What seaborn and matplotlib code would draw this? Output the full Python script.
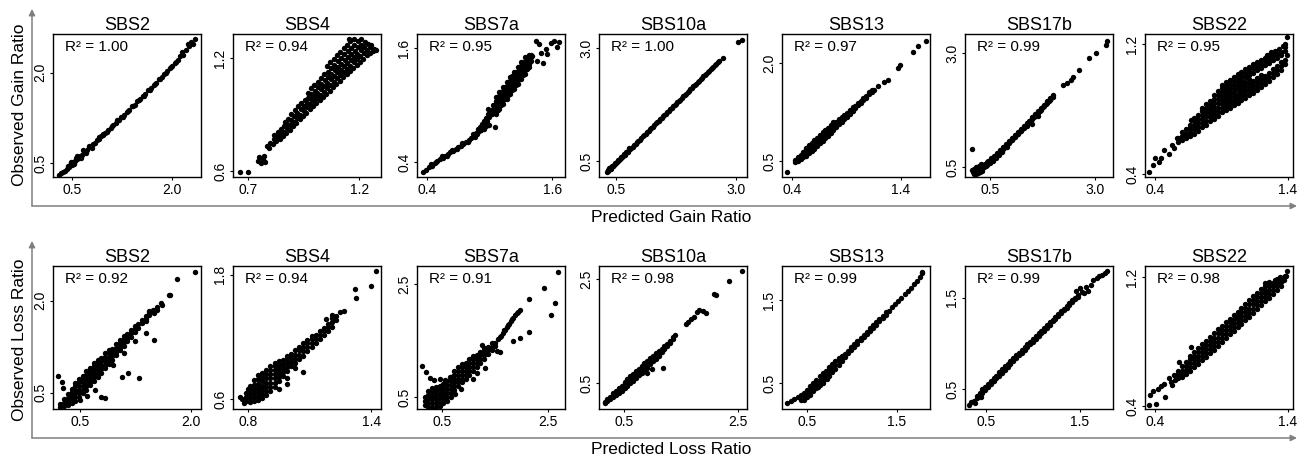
import matplotlib
matplotlib.use("Agg")
from matplotlib import pyplot as plt
import pandas as pd
import seaborn as sns

signatures = ["SBS2", "SBS4", "SBS7a", "SBS10a", "SBS13", "SBS17b", "SBS22"]
gain_r2 = [1.00, 0.94, 0.95, 1.00, 0.97, 0.99, 0.95]
loss_r2 = [0.92, 0.94, 0.91, 0.98, 0.99, 0.99, 0.98]

# (predicted, observed)
gain_sbs2 = [
    (0.31, 0.30), (0.34, 0.33), (0.37, 0.36), (0.40, 0.37), (0.42, 0.41), (0.44, 0.46), (0.45, 0.43), (0.47, 0.47),
    (0.50, 0.47), (0.48, 0.52), (0.52, 0.52), (0.53, 0.49), (0.55, 0.53), (0.56, 0.58), (0.57, 0.57), (0.58, 0.62),
    (0.60, 0.58), (0.62, 0.62), (0.63, 0.59), (0.65, 0.63), (0.66, 0.71), (0.68, 0.68), (0.70, 0.69), (0.71, 0.66),
    (0.73, 0.72), (0.75, 0.79), (0.76, 0.76), (0.79, 0.78), (0.80, 0.75), (0.82, 0.82), (0.85, 0.84), (0.88, 0.88),
    (0.90, 0.93), (0.91, 0.90), (0.94, 0.95), (0.96, 0.99), (0.97, 0.96), (1.00, 1.00), (1.02, 1.01), (1.04, 1.05),
    (1.08, 1.08), (1.10, 1.12), (1.12, 1.14), (1.16, 1.17), (1.18, 1.21), (1.20, 1.22), (1.24, 1.26), (1.26, 1.27),
    (1.28, 1.30), (1.32, 1.35), (1.34, 1.37), (1.36, 1.38), (1.40, 1.44), (1.42, 1.45), (1.44, 1.47), (1.48, 1.53),
    (1.50, 1.55), (1.52, 1.56), (1.56, 1.62), (1.58, 1.62), (1.60, 1.65), (1.64, 1.71), (1.66, 1.72), (1.68, 1.74),
    (1.72, 1.80), (1.74, 1.81), (1.76, 1.83), (1.80, 1.89), (1.82, 1.90), (1.84, 1.92), (1.88, 1.98), (1.90, 2.00),
    (1.92, 2.02), (1.96, 2.07), (1.98, 2.09), (2.00, 2.11), (2.04, 2.16), (2.06, 2.18), (2.08, 2.21), (2.12, 2.27),
    (2.14, 2.34), (2.16, 2.30), (2.20, 2.38), (2.24, 2.47), (2.25, 2.44), (2.28, 2.50), (2.31, 2.47), (2.34, 2.55),
]

gain_sbs4 = [
    (0.665, 0.595), (0.700, 0.595),
    (0.745, 0.655), (0.752, 0.672), (0.760, 0.640), (0.768, 0.662), (0.772, 0.680), (0.778, 0.650),
    (0.785, 0.735), (0.795, 0.720), (0.800, 0.750), (0.812, 0.742), (0.815, 0.772), (0.818, 0.790),
    (0.828, 0.760), (0.830, 0.785), (0.833, 0.810), (0.842, 0.772), (0.845, 0.798), (0.848, 0.825),
    (0.858, 0.785), (0.860, 0.810), (0.862, 0.838), (0.865, 0.860),
    (0.873, 0.800), (0.875, 0.828), (0.877, 0.852), (0.880, 0.878),
    (0.888, 0.820), (0.890, 0.845), (0.892, 0.870), (0.895, 0.905),
    (0.903, 0.838), (0.905, 0.862), (0.907, 0.890), (0.910, 0.925),
    (0.918, 0.858), (0.920, 0.882), (0.922, 0.910), (0.925, 0.945),
    (0.933, 0.875), (0.935, 0.900), (0.937, 0.928), (0.940, 0.962),
    (0.948, 0.895), (0.950, 0.920), (0.952, 0.948), (0.955, 0.980),
    (0.963, 0.910), (0.965, 0.938), (0.967, 0.962), (0.970, 0.990), (0.968, 1.015),
    (0.978, 0.928), (0.980, 0.955), (0.982, 0.982), (0.985, 1.010), (0.983, 1.040),
    (0.993, 0.945), (0.995, 0.972), (0.997, 1.000), (1.000, 1.028), (0.998, 1.060),
    (1.008, 0.960), (1.010, 0.988), (1.012, 1.015), (1.015, 1.045), (1.013, 1.075),
    (1.023, 0.978), (1.025, 1.005), (1.027, 1.035), (1.030, 1.062), (1.028, 1.095),
    (1.038, 0.995), (1.040, 1.022), (1.042, 1.052), (1.045, 1.082), (1.043, 1.115),
    (1.053, 1.010), (1.055, 1.040), (1.057, 1.068), (1.060, 1.098), (1.058, 1.128), (1.055, 1.158),
    (1.068, 1.028), (1.070, 1.058), (1.072, 1.088), (1.075, 1.118), (1.073, 1.148), (1.070, 1.178),
    (1.083, 1.045), (1.085, 1.075), (1.087, 1.105), (1.090, 1.135), (1.088, 1.165), (1.085, 1.198),
    (1.098, 1.065), (1.100, 1.095), (1.102, 1.125), (1.105, 1.155), (1.103, 1.185), (1.100, 1.218),
    (1.113, 1.080), (1.115, 1.110), (1.117, 1.140), (1.120, 1.170), (1.118, 1.200), (1.115, 1.232),
    (1.128, 1.098), (1.130, 1.128), (1.132, 1.158), (1.135, 1.188), (1.133, 1.220), (1.130, 1.252),
    (1.143, 1.115), (1.145, 1.145), (1.147, 1.175), (1.150, 1.205), (1.148, 1.238), (1.145, 1.270),
    (1.158, 1.130), (1.160, 1.160), (1.162, 1.192), (1.165, 1.222), (1.163, 1.255), (1.160, 1.290), (1.155, 1.305),
    (1.173, 1.148), (1.175, 1.178), (1.177, 1.208), (1.180, 1.240), (1.178, 1.272), (1.175, 1.300),
    (1.188, 1.165), (1.190, 1.195), (1.192, 1.225), (1.195, 1.258), (1.193, 1.290),
    (1.203, 1.180), (1.205, 1.212), (1.207, 1.242), (1.210, 1.272), (1.208, 1.300),
    (1.218, 1.198), (1.220, 1.228), (1.222, 1.258), (1.225, 1.288),
    (1.233, 1.215), (1.235, 1.245), (1.238, 1.275), (1.248, 1.230), (1.250, 1.258), (1.253, 1.270),
    (1.263, 1.238), (1.268, 1.250), (1.276, 1.243),
]

gain_sbs7a = [
    (0.362, 0.295), (0.39, 0.32), (0.42, 0.345), (0.44, 0.375), (0.45, 0.36), (0.475, 0.385), (0.49, 0.395),
    (0.50, 0.41), (0.525, 0.43), (0.54, 0.46), (0.55, 0.445), (0.575, 0.465), (0.59, 0.465), (0.60, 0.48),
    (0.625, 0.50), (0.64, 0.53), (0.65, 0.515), (0.675, 0.535), (0.69, 0.54), (0.70, 0.555), (0.725, 0.57),
    (0.74, 0.605), (0.75, 0.59), (0.775, 0.61), (0.79, 0.615), (0.80, 0.63), (0.825, 0.65), (0.84, 0.69),
    (0.85, 0.675), (0.86, 0.66), (0.875, 0.70), (0.88, 0.69), (0.89, 0.75), (0.90, 0.73),
    (0.91, 0.77), (0.92, 0.74), (0.93, 0.80), (0.93, 0.76), (0.94, 0.77), (0.95, 0.83), (0.95, 0.75),
    (0.96, 0.80), (0.97, 0.86), (0.97, 0.78), (0.98, 0.83), (0.99, 0.90), (0.99, 0.96), (1.00, 0.87),
    (1.00, 0.79), (1.01, 0.93), (1.02, 0.90), (1.03, 0.96), (1.03, 1.00), (1.04, 0.94), (1.05, 0.77),
    (1.06, 0.905), (1.06, 0.95), (1.06, 0.995), (1.06, 1.04), (1.06, 1.085),
    (1.077, 0.95), (1.077, 0.995), (1.077, 1.04), (1.077, 1.085),
    (1.095, 0.96), (1.095, 1.00), (1.095, 1.047), (1.095, 1.09), (1.095, 1.135),
    (1.112, 1.005), (1.112, 1.05), (1.112, 1.095), (1.112, 1.14),
    (1.13, 1.01), (1.13, 1.055), (1.13, 1.10), (1.13, 1.145), (1.13, 1.19),
    (1.147, 1.06), (1.147, 1.105), (1.147, 1.15), (1.147, 1.19),
    (1.165, 1.06), (1.165, 1.107), (1.165, 1.152), (1.165, 1.197), (1.165, 1.24),
    (1.182, 1.11), (1.182, 1.155), (1.182, 1.20), (1.182, 1.245),
    (1.20, 1.115), (1.20, 1.16), (1.20, 1.204), (1.20, 1.25), (1.20, 1.29),
    (1.217, 1.16), (1.217, 1.21), (1.217, 1.255), (1.217, 1.30),
    (1.235, 1.165), (1.235, 1.21), (1.235, 1.256), (1.235, 1.30), (1.235, 1.345),
    (1.252, 1.21), (1.252, 1.26), (1.252, 1.305), (1.252, 1.35),
    (1.27, 1.22), (1.27, 1.265), (1.27, 1.308), (1.27, 1.35), (1.27, 1.395),
    (1.287, 1.27), (1.287, 1.31), (1.287, 1.355), (1.287, 1.40),
    (1.305, 1.27), (1.305, 1.315), (1.305, 1.36), (1.305, 1.405), (1.305, 1.45),
    (1.322, 1.32), (1.322, 1.365), (1.322, 1.41), (1.322, 1.455),
    (1.34, 1.33), (1.34, 1.37), (1.34, 1.41), (1.34, 1.455), (1.34, 1.50),
    (1.357, 1.38), (1.357, 1.42), (1.357, 1.465), (1.357, 1.51),
    (1.375, 1.40), (1.375, 1.43), (1.375, 1.46), (1.375, 1.50), (1.375, 1.53),
    (1.40, 1.46), (1.40, 1.50), (1.40, 1.53),
    (1.41, 1.516), (1.444, 1.674), (1.476, 1.64), (1.54, 1.59), (1.587, 1.657), (1.62, 1.674),
    (1.65, 1.605), (1.666, 1.663), (1.49, 1.55), (1.555, 1.534), (1.46, 1.464), (1.514, 1.447),
]

gain_sbs10a = [
    (0.31, 0.25), (0.34, 0.30), (0.37, 0.32), (0.40, 0.36), (0.43, 0.38), (0.46, 0.41), (0.49, 0.44), (0.52, 0.47),
    (0.55, 0.51), (0.58, 0.55), (0.61, 0.57), (0.64, 0.60), (0.67, 0.63), (0.70, 0.66), (0.73, 0.70), (0.76, 0.73),
    (0.79, 0.76), (0.82, 0.79), (0.85, 0.82), (0.88, 0.85), (0.91, 0.88), (0.94, 0.92), (0.97, 0.95), (1.00, 0.97),
    (1.03, 1.01), (1.06, 1.05), (1.09, 1.07), (1.12, 1.10), (1.15, 1.14), (1.18, 1.17), (1.21, 1.20), (1.24, 1.23),
    (1.27, 1.26), (1.30, 1.29), (1.33, 1.33), (1.36, 1.36), (1.39, 1.39), (1.42, 1.42), (1.45, 1.45), (1.48, 1.49),
    (1.51, 1.52), (1.54, 1.55), (1.57, 1.58), (1.60, 1.61), (1.63, 1.64), (1.66, 1.68), (1.69, 1.71), (1.72, 1.74),
    (1.75, 1.77), (1.78, 1.80), (1.81, 1.83), (1.84, 1.86), (1.87, 1.90), (1.90, 1.93), (1.93, 1.96), (1.96, 1.99),
    (1.99, 2.02), (2.02, 2.05), (2.05, 2.09), (2.08, 2.12), (2.11, 2.15), (2.14, 2.18), (2.17, 2.21), (2.20, 2.24),
    (2.23, 2.27), (2.26, 2.31), (2.29, 2.34), (2.32, 2.37), (2.35, 2.40), (2.38, 2.43), (2.41, 2.46), (2.44, 2.50),
    (2.47, 2.53), (2.50, 2.56), (2.53, 2.59), (2.56, 2.62), (2.59, 2.65), (2.62, 2.68), (2.65, 2.72), (2.72, 2.79),
    (0.33, 0.28), (0.36, 0.34), (0.39, 0.33), (0.42, 0.40), (0.45, 0.39), (0.48, 0.46), (0.51, 0.45), (0.54, 0.52),
    (0.57, 0.52), (0.60, 0.59), (0.63, 0.58), (0.66, 0.65), (0.69, 0.64), (0.72, 0.71), (0.75, 0.70), (0.78, 0.78),
    (3.04, 3.13), (3.12, 3.18),
]

gain_sbs13 = [
    (0.354, 0.33),
    (0.43, 0.485), (0.43, 0.51), (0.455, 0.50), (0.455, 0.53), (0.455, 0.56),
    (0.48, 0.53), (0.48, 0.56), (0.48, 0.60), (0.505, 0.56), (0.505, 0.60), (0.505, 0.64),
    (0.53, 0.58), (0.53, 0.63), (0.53, 0.68), (0.53, 0.70), (0.555, 0.62), (0.555, 0.67), (0.555, 0.72), (0.555, 0.74),
    (0.58, 0.65), (0.58, 0.70), (0.58, 0.75), (0.58, 0.78), (0.605, 0.69), (0.605, 0.74), (0.605, 0.79), (0.605, 0.82),
    (0.63, 0.73), (0.63, 0.78), (0.63, 0.82), (0.63, 0.86), (0.655, 0.77), (0.655, 0.82), (0.655, 0.86), (0.655, 0.90),
    (0.68, 0.81), (0.68, 0.86), (0.68, 0.90), (0.68, 0.94), (0.705, 0.85), (0.705, 0.90), (0.705, 0.94), (0.705, 0.98),
    (0.73, 0.89), (0.73, 0.94), (0.73, 0.98), (0.73, 1.01), (0.755, 0.93), (0.755, 0.98), (0.755, 1.02), (0.755, 1.05),
    (0.78, 0.97), (0.78, 1.02), (0.78, 1.06), (0.78, 1.09), (0.805, 1.02), (0.805, 1.06), (0.805, 1.10),
    (0.83, 1.06), (0.83, 1.10), (0.83, 1.14), (0.855, 1.10), (0.855, 1.14), (0.855, 1.17),
    (0.88, 1.14), (0.88, 1.18), (0.88, 1.21), (0.905, 1.18), (0.905, 1.22), (0.905, 1.24),
    (0.93, 1.22), (0.93, 1.26), (0.93, 1.28), (0.955, 1.26), (0.955, 1.30), (0.955, 1.32),
    (0.98, 1.31), (0.98, 1.34), (1.005, 1.35), (1.005, 1.38), (1.03, 1.39), (1.03, 1.42),
    (1.055, 1.43), (1.055, 1.46), (1.08, 1.47), (1.08, 1.50), (1.105, 1.52), (1.105, 1.55),
    (1.13, 1.56), (1.13, 1.58), (1.155, 1.59),
    (1.19, 1.65), (1.24, 1.71), (1.28, 1.74), (1.37, 1.92), (1.39, 1.97), (1.51, 2.16), (1.56, 2.25), (1.63, 2.34),
]

gain_sbs17b = [
    (0.064, 0.90),
    (0.08, 0.43), (0.10, 0.40), (0.11, 0.35), (0.12, 0.37), (0.13, 0.46), (0.15, 0.42), (0.16, 0.35), (0.17, 0.50),
    (0.18, 0.38), (0.20, 0.45), (0.21, 0.36), (0.22, 0.40), (0.23, 0.52), (0.25, 0.47), (0.26, 0.38), (0.27, 0.42),
    (0.28, 0.56), (0.30, 0.50), (0.31, 0.41), (0.32, 0.45), (0.34, 0.55), (0.36, 0.49), (0.38, 0.57), (0.40, 0.52),
    (0.42, 0.60), (0.44, 0.55),
    (0.46, 0.58), (0.46, 0.63), (0.50, 0.58), (0.53, 0.64), (0.53, 0.69), (0.57, 0.63), (0.60, 0.70), (0.60, 0.75),
    (0.64, 0.69), (0.67, 0.76), (0.67, 0.81), (0.71, 0.76), (0.74, 0.83), (0.74, 0.88), (0.78, 0.83), (0.81, 0.89),
    (0.81, 0.94), (0.845, 0.92), (0.88, 0.96), (0.88, 1.00), (0.90, 0.93), (0.915, 0.985), (0.95, 1.02), (0.95, 1.07),
    (0.985, 1.06), (1.02, 1.09), (1.02, 1.13), (1.055, 1.13), (1.09, 1.15), (1.09, 1.20), (1.125, 1.20),
    (1.16, 1.22), (1.16, 1.26), (1.195, 1.26), (1.23, 1.28), (1.23, 1.33), (1.265, 1.33), (1.30, 1.35),
    (1.30, 1.39), (1.335, 1.40), (1.37, 1.41), (1.37, 1.46), (1.405, 1.46), (1.44, 1.48), (1.44, 1.52),
    (1.475, 1.53), (1.50, 1.44), (1.51, 1.55), (1.51, 1.59), (1.545, 1.60), (1.58, 1.62), (1.58, 1.66),
    (1.615, 1.67), (1.65, 1.62), (1.65, 1.69), (1.65, 1.73), (1.685, 1.74), (1.72, 1.76), (1.72, 1.80),
    (1.755, 1.81), (1.79, 1.83), (1.79, 1.87), (1.825, 1.88), (1.86, 1.90), (1.86, 1.94), (1.895, 1.95),
    (1.93, 1.97), (1.93, 2.01), (1.965, 2.02), (2.00, 2.04), (2.00, 2.07),
    (2.245, 2.29), (2.33, 2.34), (2.42, 2.40), (2.48, 2.47), (2.62, 2.62), (2.86, 2.89), (3.02, 3.00),
    (3.26, 3.18), (3.29, 3.27),
]

gain_sbs22 = [
    (0.356, 0.414), (0.387, 0.456), (0.40, 0.497), (0.426, 0.476), (0.44, 0.50), (0.464, 0.549), (0.502, 0.524),
    (0.528, 0.58), (0.545, 0.56), (0.566, 0.621), (0.668, 0.735),
    (0.57, 0.600), (0.57, 0.625), (0.60, 0.610), (0.60, 0.635), (0.60, 0.660),
    (0.63, 0.625), (0.63, 0.650), (0.63, 0.675), (0.66, 0.635), (0.66, 0.660), (0.66, 0.685), (0.66, 0.705),
    (0.69, 0.650), (0.69, 0.675), (0.69, 0.700), (0.69, 0.725), (0.69, 0.745),
    (0.72, 0.665), (0.72, 0.690), (0.72, 0.715), (0.72, 0.740), (0.72, 0.765),
    (0.75, 0.690), (0.75, 0.715), (0.75, 0.740), (0.75, 0.765), (0.75, 0.790), (0.75, 0.810),
    (0.78, 0.705), (0.78, 0.730), (0.78, 0.755), (0.78, 0.780), (0.78, 0.805), (0.78, 0.830),
    (0.81, 0.725), (0.81, 0.750), (0.81, 0.775), (0.81, 0.800), (0.81, 0.825), (0.81, 0.850),
    (0.84, 0.740), (0.84, 0.765), (0.84, 0.790), (0.84, 0.815), (0.84, 0.840), (0.84, 0.865), (0.84, 0.885),
    (0.87, 0.760), (0.87, 0.785), (0.87, 0.810), (0.87, 0.835), (0.87, 0.860), (0.87, 0.885), (0.87, 0.910),
    (0.90, 0.780), (0.90, 0.805), (0.90, 0.830), (0.90, 0.855), (0.90, 0.880), (0.90, 0.905), (0.90, 0.930), (0.90, 0.950),
    (0.93, 0.795), (0.93, 0.820), (0.93, 0.845), (0.93, 0.870), (0.93, 0.895), (0.93, 0.920), (0.93, 0.945), (0.93, 0.965),
    (0.96, 0.805), (0.96, 0.830), (0.96, 0.855), (0.96, 0.880), (0.96, 0.905), (0.96, 0.930), (0.96, 0.955), (0.96, 0.980),
    (0.99, 0.825), (0.99, 0.850), (0.99, 0.875), (0.99, 0.900), (0.99, 0.925), (0.99, 0.950), (0.99, 0.975), (0.99, 1.000),
    (1.02, 0.840), (1.02, 0.865), (1.02, 0.890), (1.02, 0.915), (1.02, 0.940), (1.02, 0.965), (1.02, 0.990), (1.02, 1.015),
    (1.05, 0.855), (1.05, 0.880), (1.05, 0.905), (1.05, 0.930), (1.05, 0.955), (1.05, 0.980), (1.05, 1.005), (1.05, 1.030),
    (1.08, 0.870), (1.08, 0.895), (1.08, 0.920), (1.08, 0.945), (1.08, 0.970), (1.08, 0.995), (1.08, 1.020), (1.08, 1.045),
    (1.11, 0.885), (1.11, 0.910), (1.11, 0.935), (1.11, 0.960), (1.11, 0.985), (1.11, 1.010), (1.11, 1.035), (1.11, 1.060),
    (1.14, 0.900), (1.14, 0.925), (1.14, 0.950), (1.14, 0.975), (1.14, 1.025), (1.14, 1.050), (1.14, 1.075),
    (1.17, 0.915), (1.17, 0.940), (1.17, 0.965), (1.17, 0.990), (1.17, 1.040), (1.17, 1.065), (1.17, 1.090),
    (1.20, 0.935), (1.20, 0.960), (1.20, 0.985), (1.20, 1.010), (1.20, 1.055), (1.20, 1.080), (1.20, 1.105),
    (1.23, 0.955), (1.23, 0.980), (1.23, 1.005), (1.23, 1.070), (1.23, 1.095), (1.23, 1.115),
    (1.26, 0.975), (1.26, 1.000), (1.26, 1.025), (1.26, 1.085), (1.26, 1.110), (1.26, 1.130),
    (1.29, 0.995), (1.29, 1.020), (1.29, 1.045), (1.29, 1.100), (1.29, 1.125), (1.29, 1.145),
    (1.32, 1.015), (1.32, 1.040), (1.32, 1.065), (1.32, 1.115), (1.32, 1.140),
    (1.35, 1.040), (1.35, 1.065), (1.35, 1.090), (1.35, 1.130), (1.35, 1.150),
    (1.38, 1.080), (1.38, 1.100), (1.38, 1.160), (1.38, 1.180),
    (1.395, 1.241), (1.38, 1.20), (1.36, 1.19), (1.33, 1.17), (1.30, 1.16), (1.27, 1.15), (1.24, 1.135), (1.39, 1.13),
]

loss_sbs2 = [
    (0.24, 0.27), (0.24, 0.32), (0.29, 0.28), (0.29, 0.34), (0.29, 0.40),
    (0.34, 0.30), (0.34, 0.36), (0.34, 0.42), (0.34, 0.48),
    (0.39, 0.33), (0.39, 0.39), (0.39, 0.45), (0.39, 0.51), (0.39, 0.57),
    (0.44, 0.37), (0.44, 0.43), (0.44, 0.49), (0.44, 0.55), (0.44, 0.61), (0.44, 0.66),
    (0.49, 0.43), (0.49, 0.49), (0.49, 0.55), (0.49, 0.61), (0.49, 0.67), (0.49, 0.72),
    (0.54, 0.49), (0.54, 0.55), (0.54, 0.61), (0.54, 0.67), (0.54, 0.73), (0.54, 0.78),
    (0.59, 0.55), (0.59, 0.61), (0.59, 0.67), (0.59, 0.73), (0.59, 0.79), (0.59, 0.85),
    (0.64, 0.62), (0.64, 0.68), (0.64, 0.74), (0.64, 0.80), (0.64, 0.86), (0.64, 0.91),
    (0.69, 0.69), (0.69, 0.75), (0.69, 0.81), (0.69, 0.87), (0.69, 0.93), (0.69, 0.98),
    (0.74, 0.76), (0.74, 0.82), (0.74, 0.88), (0.74, 0.94), (0.74, 1.00), (0.74, 1.04),
    (0.79, 0.83), (0.79, 0.89), (0.79, 0.95), (0.79, 1.01), (0.79, 1.07),
    (0.84, 0.90), (0.84, 0.96), (0.84, 1.02), (0.84, 1.08), (0.84, 1.14),
    (0.89, 0.97), (0.89, 1.03), (0.89, 1.09), (0.89, 1.15), (0.89, 1.20),
    (0.94, 1.04), (0.94, 1.10), (0.94, 1.16), (0.94, 1.22), (0.99, 1.11), (0.99, 1.17), (0.99, 1.23), (0.99, 1.29),
    (1.04, 1.19), (1.04, 1.25), (1.04, 1.31), (1.04, 1.36), (1.09, 1.26), (1.09, 1.32), (1.09, 1.38), (1.09, 1.42),
    (1.14, 1.34), (1.14, 1.40), (1.14, 1.46), (1.19, 1.41), (1.19, 1.47), (1.19, 1.52),
    (1.24, 1.49), (1.24, 1.54), (1.24, 1.59), (1.29, 1.56), (1.29, 1.62), (1.34, 1.63), (1.34, 1.69),
    (1.39, 1.70), (1.39, 1.75), (1.44, 1.77), (1.44, 1.82), (1.49, 1.84), (1.54, 1.90), (1.59, 1.96),
    (2.054, 2.469), (1.81, 2.344), (1.706, 2.098), (1.72, 2.09), (1.608, 1.934), (1.548, 1.852), (1.50, 1.80),
    (1.436, 1.824), (1.39, 1.672), (1.504, 1.36), (1.39, 1.468), (1.30, 0.741), (1.157, 0.823), (1.076, 0.758),
    (0.842, 0.413), (0.78, 0.43), (0.211, 0.769), (0.265, 0.676), (0.274, 0.578), (0.60, 0.45), (0.70, 0.55),
    (0.50, 0.38), (0.95, 0.95), (1.10, 1.15), (1.25, 1.35),
]

loss_sbs4 = [
    (0.77, 0.60), (0.80, 0.70), (0.76, 0.62), (0.78, 0.56),
    (0.79, 0.58), (0.79, 0.62), (0.79, 0.66),
    (0.81, 0.57), (0.81, 0.61), (0.81, 0.65), (0.81, 0.69), (0.81, 0.73),
    (0.83, 0.58), (0.83, 0.62), (0.83, 0.66), (0.83, 0.70), (0.83, 0.74), (0.83, 0.78),
    (0.85, 0.59), (0.85, 0.63), (0.85, 0.67), (0.85, 0.71), (0.85, 0.75), (0.85, 0.79), (0.85, 0.83),
    (0.87, 0.61), (0.87, 0.65), (0.87, 0.69), (0.87, 0.73), (0.87, 0.77), (0.87, 0.81), (0.87, 0.85),
    (0.89, 0.64), (0.89, 0.68), (0.89, 0.72), (0.89, 0.76), (0.89, 0.80), (0.89, 0.84), (0.89, 0.88),
    (0.91, 0.68), (0.91, 0.72), (0.91, 0.76), (0.91, 0.80), (0.91, 0.84), (0.91, 0.88), (0.91, 0.92),
    (0.93, 0.72), (0.93, 0.76), (0.93, 0.80), (0.93, 0.84), (0.93, 0.88), (0.93, 0.92), (0.93, 0.95),
    (0.95, 0.77), (0.95, 0.81), (0.95, 0.85), (0.95, 0.89), (0.95, 0.93), (0.95, 0.97),
    (0.97, 0.82), (0.97, 0.86), (0.97, 0.90), (0.97, 0.94), (0.97, 0.98),
    (0.99, 0.87), (0.99, 0.91), (0.99, 0.95), (0.99, 0.99), (0.99, 1.02),
    (1.01, 0.92), (1.01, 0.96), (1.01, 1.00), (1.01, 1.04), (1.03, 0.95), (1.03, 0.99), (1.03, 1.03), (1.03, 1.07),
    (1.05, 0.99), (1.05, 1.03), (1.05, 1.07), (1.05, 1.10), (1.07, 1.02), (1.07, 1.06), (1.07, 1.10), (1.07, 1.14),
    (1.09, 1.06), (1.09, 1.10), (1.09, 1.14), (1.09, 1.17), (1.11, 1.10), (1.11, 1.14), (1.11, 1.18), (1.11, 1.21),
    (1.13, 1.14), (1.13, 1.18), (1.13, 1.22), (1.15, 1.18), (1.15, 1.22), (1.15, 1.26),
    (1.17, 1.22), (1.17, 1.26), (1.17, 1.29), (1.19, 1.26), (1.19, 1.30), (1.19, 1.33),
    (1.21, 1.30), (1.21, 1.34), (1.21, 1.38), (1.21, 1.41), (1.23, 1.36), (1.23, 1.40),
    (1.25, 1.445), (1.27, 1.45), (1.18, 1.37),
    (1.07, 0.86), (0.99, 0.80), (0.99, 0.75), (0.95, 0.70), (1.03, 0.90),
    (1.32, 1.66), (1.325, 1.58), (1.40, 1.69), (1.425, 1.835),
]

loss_sbs7a = [
    (0.17, 0.36), (0.17, 0.43), (0.17, 0.50),
    (0.24, 0.33), (0.24, 0.40), (0.24, 0.47), (0.24, 0.54), (0.24, 0.61),
    (0.31, 0.32), (0.31, 0.39), (0.31, 0.46), (0.31, 0.53), (0.31, 0.60), (0.31, 0.67),
    (0.38, 0.33), (0.38, 0.40), (0.38, 0.47), (0.38, 0.54), (0.38, 0.61), (0.38, 0.68),
    (0.45, 0.35), (0.45, 0.42), (0.45, 0.49), (0.45, 0.56), (0.45, 0.63), (0.45, 0.70),
    (0.52, 0.39), (0.52, 0.46), (0.52, 0.53), (0.52, 0.60), (0.52, 0.67), (0.52, 0.74),
    (0.59, 0.44), (0.59, 0.51), (0.59, 0.58), (0.59, 0.65), (0.59, 0.72), (0.59, 0.79),
    (0.66, 0.50), (0.66, 0.57), (0.66, 0.64), (0.66, 0.71), (0.66, 0.78), (0.66, 0.85),
    (0.73, 0.62), (0.73, 0.69), (0.73, 0.76), (0.73, 0.83), (0.73, 0.90), (0.73, 0.96),
    (0.80, 0.69), (0.80, 0.76), (0.80, 0.83), (0.80, 0.90), (0.80, 0.97), (0.80, 1.03),
    (0.87, 0.76), (0.87, 0.83), (0.87, 0.90), (0.87, 0.97), (0.87, 1.04), (0.87, 1.09),
    (0.94, 0.82), (0.94, 0.89), (0.94, 0.96), (0.94, 1.03), (0.94, 1.10),
    (1.01, 0.89), (1.01, 0.96), (1.01, 1.03), (1.01, 1.10), (1.01, 1.17),
    (1.08, 0.96), (1.08, 1.03), (1.08, 1.10), (1.08, 1.17), (1.08, 1.23),
    (1.15, 1.03), (1.15, 1.10), (1.15, 1.17), (1.15, 1.24),
    (1.22, 1.10), (1.22, 1.17), (1.22, 1.24), (1.22, 1.30),
    (1.29, 1.17), (1.29, 1.24), (1.29, 1.31), (1.29, 1.36),
    (1.36, 1.26), (1.36, 1.33), (1.36, 1.39), (1.43, 1.33), (1.43, 1.39), (1.43, 1.45),
    (1.50, 1.40), (1.50, 1.46),
    (1.56, 1.53), (1.58, 1.57), (1.60, 1.58), (1.64, 1.64), (1.66, 1.68), (1.68, 1.69), (1.72, 1.74), (1.74, 1.78),
    (1.76, 1.79), (1.80, 1.84), (1.82, 1.88), (1.84, 1.90), (1.88, 1.95), (1.90, 1.98), (1.92, 2.00), (1.96, 2.04),
    (2.68, 2.71), (2.42, 2.43), (2.626, 2.17), (2.54, 1.955), (2.126, 2.24), (2.126, 1.658), (1.96, 1.538),
    (1.826, 1.492), (0.125, 1.052), (0.19, 0.945), (0.264, 0.838), (0.35, 0.80), (0.45, 0.83), (0.55, 0.80),
    (0.65, 0.86), (1.076, 0.826), (1.54, 1.31), (1.58, 1.30), (1.25, 1.42), (1.30, 1.02), (1.15, 0.92),
    (0.75, 0.55), (0.85, 0.65),
]

loss_sbs10a = [
    (0.16, 0.12), (0.16, 0.14), (0.21, 0.16), (0.21, 0.19), (0.26, 0.20), (0.26, 0.24),
    (0.31, 0.24), (0.31, 0.28), (0.31, 0.31), (0.36, 0.28), (0.36, 0.32), (0.36, 0.36),
    (0.41, 0.32), (0.41, 0.36), (0.41, 0.40), (0.46, 0.36), (0.46, 0.41), (0.46, 0.45),
    (0.51, 0.40), (0.51, 0.45), (0.51, 0.50), (0.51, 0.53), (0.56, 0.45), (0.56, 0.50), (0.56, 0.55), (0.56, 0.58),
    (0.61, 0.50), (0.61, 0.55), (0.61, 0.60), (0.61, 0.63), (0.66, 0.55), (0.66, 0.60), (0.66, 0.65), (0.66, 0.68),
    (0.71, 0.60), (0.71, 0.65), (0.71, 0.70), (0.71, 0.73), (0.76, 0.65), (0.76, 0.70), (0.76, 0.75), (0.76, 0.78),
    (0.81, 0.70), (0.81, 0.75), (0.81, 0.80), (0.81, 0.83), (0.86, 0.75), (0.86, 0.80), (0.86, 0.85), (0.86, 0.88),
    (0.91, 0.80), (0.91, 0.85), (0.91, 0.90), (0.91, 0.93), (0.96, 0.86), (0.96, 0.91), (0.96, 0.95), (0.96, 0.98),
    (1.01, 0.92), (1.01, 0.96), (1.01, 1.00), (1.01, 1.03), (1.06, 0.97), (1.06, 1.01), (1.06, 1.05), (1.06, 1.08),
    (1.11, 1.03), (1.11, 1.07), (1.11, 1.11), (1.16, 1.09), (1.16, 1.12), (1.16, 1.16),
    (1.21, 1.15), (1.21, 1.18), (1.21, 1.22), (1.26, 1.21), (1.26, 1.25), (1.31, 1.28), (1.31, 1.31),
    (1.36, 1.35), (1.36, 1.38), (1.40, 1.43),
    (1.18, 0.79), (1.00, 0.78), (0.90, 0.70),
    (1.59, 1.64), (1.62, 1.68), (1.675, 1.74), (1.73, 1.78), (1.79, 1.87), (1.82, 1.90), (1.89, 1.88), (1.94, 1.84),
    (2.08, 2.21), (2.11, 2.20), (2.34, 2.46), (2.57, 2.65),
]

loss_sbs13 = [
    (0.28, 0.26), (0.32, 0.28), (0.36, 0.31), (0.40, 0.33),
    (0.43, 0.30), (0.43, 0.35), (0.465, 0.30), (0.465, 0.34), (0.465, 0.38),
    (0.50, 0.33), (0.50, 0.37), (0.50, 0.42), (0.535, 0.36), (0.535, 0.41), (0.535, 0.46),
    (0.57, 0.40), (0.57, 0.45), (0.57, 0.50), (0.605, 0.44), (0.605, 0.49), (0.605, 0.54),
    (0.64, 0.48), (0.64, 0.53), (0.64, 0.58), (0.675, 0.52), (0.675, 0.57), (0.675, 0.62),
    (0.71, 0.555), (0.71, 0.605), (0.71, 0.65), (0.745, 0.59), (0.745, 0.64), (0.745, 0.69),
    (0.78, 0.63), (0.78, 0.68), (0.78, 0.73), (0.815, 0.67), (0.815, 0.72), (0.815, 0.76),
    (0.85, 0.72), (0.85, 0.76), (0.85, 0.80), (0.885, 0.76), (0.885, 0.80), (0.885, 0.83),
    (0.92, 0.81), (0.92, 0.85), (0.955, 0.86), (0.955, 0.89), (0.99, 0.90), (0.99, 0.93),
    (1.025, 0.94), (1.025, 0.97), (1.06, 0.975), (1.06, 1.005), (1.095, 1.015), (1.095, 1.045),
    (1.13, 1.05), (1.13, 1.08), (1.165, 1.09), (1.165, 1.12), (1.20, 1.13), (1.20, 1.16),
    (1.235, 1.165), (1.235, 1.195), (1.27, 1.205), (1.27, 1.235), (1.305, 1.245), (1.305, 1.275),
    (1.34, 1.285), (1.34, 1.31), (1.375, 1.325), (1.375, 1.35), (1.41, 1.37), (1.445, 1.41),
    (1.48, 1.45), (1.515, 1.49), (1.55, 1.53), (1.585, 1.57), (1.62, 1.61), (1.655, 1.64),
    (1.69, 1.69), (1.725, 1.73), (1.76, 1.78), (1.775, 1.83), (1.78, 1.84),
    (0.62, 0.45), (0.68, 0.50), (0.72, 0.55),
]

loss_sbs17b = [
    (0.32, 0.33), (0.34, 0.36), (0.37, 0.37), (0.38, 0.35), (0.40, 0.40), (0.40, 0.43), (0.43, 0.43), (0.43, 0.46),
    (0.45, 0.42), (0.46, 0.46), (0.46, 0.50), (0.49, 0.49), (0.49, 0.53), (0.52, 0.52), (0.52, 0.56), (0.55, 0.56),
    (0.55, 0.59), (0.58, 0.59), (0.58, 0.62), (0.61, 0.62), (0.61, 0.65), (0.64, 0.65), (0.64, 0.69), (0.67, 0.68),
    (0.67, 0.72), (0.70, 0.71), (0.70, 0.75), (0.73, 0.74), (0.73, 0.78), (0.76, 0.78), (0.76, 0.81), (0.79, 0.81),
    (0.79, 0.84), (0.82, 0.84), (0.82, 0.87), (0.85, 0.87), (0.85, 0.90), (0.88, 0.90), (0.88, 0.93), (0.91, 0.93),
    (0.91, 0.96), (0.94, 0.96), (0.94, 0.99), (0.97, 0.99), (0.97, 1.02), (1.00, 1.02), (1.00, 1.05), (1.03, 1.05),
    (1.03, 1.08), (1.06, 1.08), (1.06, 1.11), (1.09, 1.11), (1.09, 1.14), (1.12, 1.14), (1.12, 1.17), (1.15, 1.17),
    (1.15, 1.20), (1.18, 1.20), (1.18, 1.23), (1.21, 1.24), (1.21, 1.26), (1.24, 1.27), (1.24, 1.29), (1.27, 1.30),
    (1.27, 1.32), (1.30, 1.33), (1.30, 1.35), (1.33, 1.36), (1.33, 1.38), (1.36, 1.39), (1.36, 1.41), (1.39, 1.42),
    (1.39, 1.44), (1.42, 1.45), (1.42, 1.47), (1.45, 1.48), (1.45, 1.50), (1.48, 1.51), (1.48, 1.53),
    (1.46, 1.57), (1.50, 1.60), (1.52, 1.56), (1.55, 1.55), (1.57, 1.61), (1.59, 1.57), (1.62, 1.64), (1.64, 1.69),
    (1.68, 1.71), (1.71, 1.73), (1.74, 1.75), (1.77, 1.77), (1.79, 1.79),
]

loss_sbs22 = [
    (0.356, 0.408), (0.408, 0.414), (0.362, 0.471), (0.387, 0.492), (0.418, 0.508), (0.444, 0.525), (0.469, 0.539),
    (0.477, 0.456), (0.528, 0.533), (0.502, 0.571), (0.54, 0.592), (0.578, 0.675), (0.668, 0.769), (0.604, 0.581),
    (0.55, 0.56), (0.52, 0.55),
    (0.57, 0.575), (0.57, 0.60), (0.57, 0.62), (0.60, 0.595), (0.60, 0.62), (0.60, 0.645),
    (0.63, 0.60), (0.63, 0.625), (0.63, 0.645), (0.63, 0.67), (0.66, 0.615), (0.66, 0.64), (0.66, 0.665), (0.66, 0.69), (0.66, 0.71),
    (0.69, 0.64), (0.69, 0.665), (0.69, 0.69), (0.69, 0.71), (0.69, 0.735), (0.72, 0.66), (0.72, 0.685), (0.72, 0.71), (0.72, 0.735), (0.72, 0.76),
    (0.75, 0.685), (0.75, 0.71), (0.75, 0.735), (0.75, 0.76), (0.75, 0.785), (0.78, 0.705), (0.78, 0.73), (0.78, 0.755), (0.78, 0.78), (0.78, 0.805),
    (0.81, 0.73), (0.81, 0.755), (0.81, 0.78), (0.81, 0.805), (0.81, 0.83), (0.84, 0.75), (0.84, 0.775), (0.84, 0.80), (0.84, 0.825), (0.84, 0.85),
    (0.87, 0.775), (0.87, 0.80), (0.87, 0.825), (0.87, 0.85), (0.87, 0.875), (0.90, 0.80), (0.90, 0.825), (0.90, 0.845), (0.90, 0.87), (0.90, 0.895),
    (0.93, 0.82), (0.93, 0.845), (0.93, 0.87), (0.93, 0.895), (0.93, 0.92), (0.96, 0.845), (0.96, 0.87), (0.96, 0.895), (0.96, 0.92), (0.96, 0.94),
    (0.99, 0.865), (0.99, 0.89), (0.99, 0.915), (0.99, 0.94), (0.99, 0.965), (1.02, 0.89), (1.02, 0.915), (1.02, 0.94), (1.02, 0.96), (1.02, 0.985),
    (1.05, 0.91), (1.05, 0.935), (1.05, 0.96), (1.05, 0.985), (1.05, 1.01), (1.08, 0.935), (1.08, 0.96), (1.08, 0.985), (1.08, 1.01), (1.08, 1.035),
    (1.11, 0.955), (1.11, 0.98), (1.11, 1.005), (1.11, 1.03), (1.11, 1.055), (1.14, 0.98), (1.14, 1.005), (1.14, 1.03), (1.14, 1.055), (1.14, 1.08),
    (1.17, 1.00), (1.17, 1.025), (1.17, 1.05), (1.17, 1.075), (1.17, 1.10), (1.20, 1.025), (1.20, 1.05), (1.20, 1.075), (1.20, 1.10), (1.20, 1.125),
    (1.23, 1.05), (1.23, 1.075), (1.23, 1.10), (1.23, 1.12), (1.23, 1.145), (1.26, 1.07), (1.26, 1.095), (1.26, 1.12), (1.26, 1.145), (1.26, 1.17),
    (1.29, 1.095), (1.29, 1.12), (1.29, 1.145), (1.29, 1.165), (1.32, 1.12), (1.32, 1.145), (1.32, 1.165), (1.32, 1.19),
    (1.35, 1.145), (1.35, 1.17), (1.35, 1.19), (1.37, 1.18), (1.37, 1.20),
    (1.395, 1.236), (1.389, 1.204), (1.38, 1.21), (1.229, 1.163), (1.30, 1.18), (1.34, 1.20),
]

gain_points = [gain_sbs2, gain_sbs4, gain_sbs7a, gain_sbs10a, gain_sbs13, gain_sbs17b, gain_sbs22]
loss_points = [loss_sbs2, loss_sbs4, loss_sbs7a, loss_sbs10a, loss_sbs13, loss_sbs17b, loss_sbs22]

gain_xlims = [(0.217, 2.43), (0.633, 1.298), (0.305, 1.724), (0.149, 3.227), (0.308, 1.666), (-0.095, 3.43), (0.323, 1.438)]
gain_ylims = [(0.27, 2.64), (0.568, 1.329), (0.242, 1.747), (0.146, 3.31), (0.258, 2.44), (0.28, 3.42), (0.383, 1.262)]
loss_xlims = [(0.139, 2.135), (0.728, 1.448), (0.026, 2.813), (0.061, 2.66), (0.222, 1.867), (0.274, 1.855), (0.323, 1.438)]
loss_ylims = [(0.237, 2.563), (0.504, 1.886), (0.292, 2.815), (0.005, 2.75), (0.187, 1.91), (0.285, 1.844), (0.381, 1.269)]

gain_xticks = [[0.5, 2.0], [0.7, 1.2], [0.4, 1.6], [0.5, 3.0], [0.4, 1.4], [0.5, 3.0], [0.4, 1.4]]
gain_yticks = [[0.5, 2.0], [0.6, 1.2], [0.4, 1.6], [0.5, 3.0], [0.5, 2.0], [0.5, 3.0], [0.4, 1.2]]
loss_xticks = [[0.5, 2.0], [0.8, 1.4], [0.5, 2.5], [0.5, 2.5], [0.5, 1.5], [0.5, 1.5], [0.4, 1.4]]
loss_yticks = [[0.5, 2.0], [0.6, 1.8], [0.5, 2.5], [0.5, 2.5], [0.5, 1.5], [0.5, 1.5], [0.4, 1.2]]

W, H = 1304, 458
panel_left = [53, 233, 417, 599, 782, 965, 1145]
panel_w, panel_h = 148, 143
row_top = [34, 266]

sns.set_theme(style="white")
plt.rcParams["font.family"] = ["Liberation Sans", "DejaVu Sans"]
plt.rcParams["text.color"] = "black"
plt.rcParams["xtick.color"] = "black"
plt.rcParams["ytick.color"] = "black"
plt.rcParams["axes.labelcolor"] = "black"

fig = plt.figure(figsize=(W / 100, H / 100), dpi=100)

# outer frame with the arrows and the shared labels
frame = fig.add_axes([0, 0, 1, 1], zorder=0)
frame.set_xlim(0, W)
frame.set_ylim(H, 0)
frame.axis("off")
arrow = dict(arrowstyle="-|>", color="#7f7f7f", lw=1.1, shrinkA=0, shrinkB=0, mutation_scale=9)
for base_y, top_y in [(206, 9), (438, 241)]:
    frame.annotate("", xy=(32, top_y), xytext=(32, base_y), arrowprops=arrow)
    frame.annotate("", xy=(1297, base_y), xytext=(32, base_y), arrowprops=arrow)
frame.text(20, 105, "Observed Gain Ratio", rotation=90, ha="center", va="center", fontsize=12.5)
frame.text(20, 340, "Observed Loss Ratio", rotation=90, ha="center", va="center", fontsize=12.5)
frame.text(671, 218, "Predicted Gain Ratio", ha="center", va="center", fontsize=12.5)
frame.text(671, 449, "Predicted Loss Ratio", ha="center", va="center", fontsize=12.5)


def draw_panel(left, top, points, r2, title, xlim, ylim, xticks, yticks):
    ax = fig.add_axes([left / W, 1 - (top + panel_h) / H, panel_w / W, panel_h / H], zorder=2)
    df = pd.DataFrame(points, columns=["predicted", "observed"])
    sns.scatterplot(data=df, x="predicted", y="observed", ax=ax, color="black",
                    s=15, linewidth=0, legend=False)
    ax.set_xlim(*xlim)
    ax.set_ylim(*ylim)
    ax.set_xlabel("")
    ax.set_ylabel("")
    ax.set_xticks(xticks)
    ax.set_xticklabels([f"{v:.1f}" for v in xticks])
    ax.set_yticks(yticks)
    ax.set_yticklabels([f"{v:.1f}" for v in yticks], rotation=90, va="center")
    ax.tick_params(length=2.5, width=0.8, pad=1.5, labelsize=10, color="black",
                   labelcolor="black", bottom=True, left=True)
    for sp in ax.spines.values():
        sp.set_color("black")
        sp.set_linewidth(1.0)
    ax.set_title(title, fontsize=13, pad=3, color="black")
    ax.text(0.08, 0.955, f"R\u00b2 = {r2:.2f}", transform=ax.transAxes,
            ha="left", va="top", fontsize=11, color="black")
    return ax


for i, sig in enumerate(signatures):
    draw_panel(panel_left[i], row_top[0], gain_points[i], gain_r2[i], sig,
               gain_xlims[i], gain_ylims[i], gain_xticks[i], gain_yticks[i])
    draw_panel(panel_left[i], row_top[1], loss_points[i], loss_r2[i], sig,
               loss_xlims[i], loss_ylims[i], loss_xticks[i], loss_yticks[i])

fig.savefig("out.png", dpi=100)
